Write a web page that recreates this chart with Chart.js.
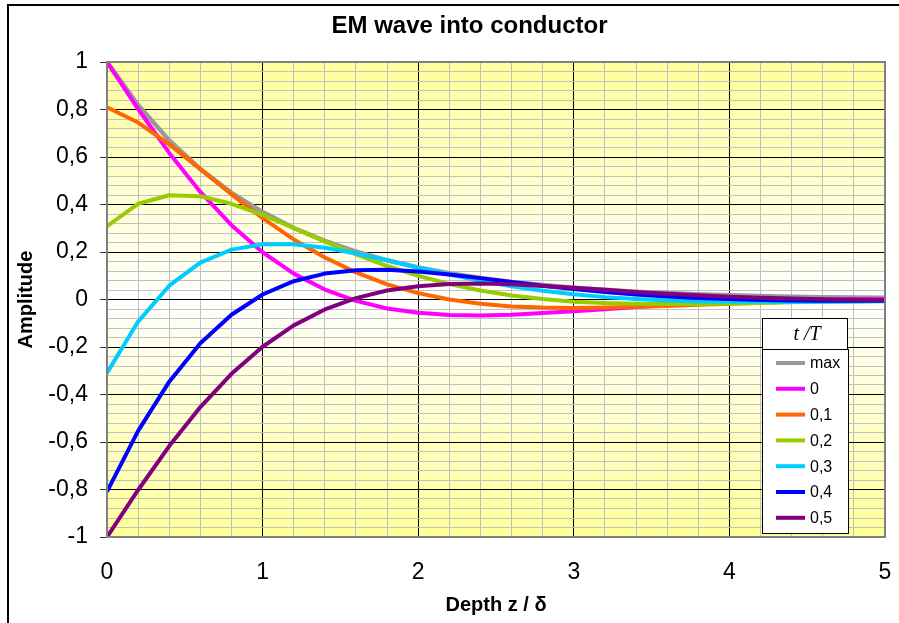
<!DOCTYPE html>
<html lang="en">
<head>
<meta charset="UTF-8">
<title>EM wave into conductor</title>
<script src="https://cdn.jsdelivr.net/npm/chart.js"></script>
<style>
  html, body { margin: 0; padding: 0; background: #fff; }
  canvas { display: block; }
</style>
</head>
<body>
<canvas id="waveChart" width="899" height="623"></canvas>
<script>
// depth z / delta
const depth = [0, 0.2, 0.4, 0.6, 0.8, 1.0, 1.2, 1.4, 1.6, 1.8, 2.0, 2.2, 2.4, 2.6, 2.8, 3.0, 3.2, 3.4, 3.6, 3.8, 4.0, 4.2, 4.4, 4.6, 4.8, 5.0];

// amplitude curves, one per t/T
const ampMax = [1, 0.819, 0.670, 0.549, 0.449, 0.368, 0.301, 0.247, 0.202, 0.165, 0.135, 0.111, 0.091, 0.074, 0.061, 0.050, 0.041, 0.033, 0.027, 0.022, 0.018, 0.015, 0.012, 0.010, 0.008, 0.007];
const amp00 = [1, 0.802, 0.617, 0.453, 0.313, 0.199, 0.109, 0.042, -0.006, -0.038, -0.056, -0.065, -0.067, -0.064, -0.057, -0.049, -0.041, -0.032, -0.024, -0.018, -0.012, -0.007, -0.004, -0.001, 0.001, 0.002];
const amp01 = [0.809, 0.745, 0.653, 0.549, 0.443, 0.343, 0.253, 0.177, 0.114, 0.064, 0.027, 0.000, -0.018, -0.029, -0.034, -0.036, -0.034, -0.031, -0.027, -0.022, -0.018, -0.014, -0.010, -0.007, -0.004, -0.002];
const amp02 = [0.309, 0.403, 0.439, 0.435, 0.403, 0.356, 0.301, 0.244, 0.190, 0.141, 0.100, 0.065, 0.038, 0.017, 0.002, -0.009, -0.015, -0.018, -0.019, -0.019, -0.017, -0.015, -0.012, -0.010, -0.008, -0.006];
const amp03 = [-0.309, -0.093, 0.058, 0.155, 0.210, 0.233, 0.233, 0.218, 0.194, 0.165, 0.134, 0.105, 0.079, 0.056, 0.037, 0.022, 0.010, 0.002, -0.004, -0.008, -0.009, -0.010, -0.010, -0.009, -0.008, -0.007];
const amp04 = [-0.809, -0.553, -0.346, -0.184, -0.064, 0.021, 0.077, 0.109, 0.123, 0.125, 0.118, 0.105, 0.090, 0.074, 0.058, 0.044, 0.032, 0.021, 0.013, 0.006, 0.002, -0.002, -0.004, -0.005, -0.005, -0.005];
const amp05 = [-1, -0.802, -0.617, -0.453, -0.313, -0.199, -0.109, -0.042, 0.006, 0.038, 0.056, 0.065, 0.067, 0.064, 0.057, 0.049, 0.041, 0.032, 0.024, 0.018, 0.012, 0.007, 0.004, 0.001, -0.001, -0.002];

const seriesNames = ['max', '0', '0,1', '0,2', '0,3', '0,4', '0,5'];
const seriesData = [ampMax, amp00, amp01, amp02, amp03, amp04, amp05];
const seriesColors = ['#999999', '#FF00FF', '#FF6600', '#99CC00', '#00CCFF', '#0000FF', '#800080'];

// tick labels
const xTickLabels = ['0', '1', '2', '3', '4', '5'];
const yTickLabels = ['-1', '-0,8', '-0,6', '-0,4', '-0,2', '0', '0,2', '0,4', '0,6', '0,8', '1'];

Chart.defaults.font.family = '"Liberation Sans", Arial, sans-serif';
Chart.defaults.color = '#000';

function isMajorX(v) { return Math.abs(v - Math.round(v)) < 1e-6; }
function isMajorY(v) { return Math.abs(v * 5 - Math.round(v * 5)) < 1e-6; }

// background, frame, title and legend box
const decorPlugin = {
    id: 'decor',
    beforeDraw(chart) {
        const { ctx, chartArea: a } = chart;
        ctx.save();
        const g = ctx.createLinearGradient(0, a.top, 0, a.bottom);
        g.addColorStop(0, '#FFFF99');
        g.addColorStop(0.5, '#FFFFFF');
        g.addColorStop(1, '#FFFF99');
        ctx.fillStyle = g;
        ctx.fillRect(a.left, a.top, a.right - a.left, a.bottom - a.top);

        // outer chart frame (only left and top show in the window)
        ctx.strokeStyle = '#000';
        ctx.lineWidth = 2;
        ctx.beginPath();
        ctx.moveTo(899, 5);
        ctx.lineTo(8, 5);
        ctx.lineTo(8, 623);
        ctx.stroke();

        ctx.font = 'bold 24px "Liberation Sans", Arial, sans-serif';
        ctx.fillStyle = '#000';
        ctx.textAlign = 'center';
        ctx.textBaseline = 'alphabetic';
        ctx.fillText('EM wave into conductor', 469.5, 33);
        ctx.restore();
    },
    afterDraw(chart) {
        const { ctx, chartArea: a } = chart;
        ctx.save();
        ctx.strokeStyle = '#808080';
        ctx.lineWidth = 2;
        ctx.strokeRect(a.left, a.top, a.right - a.left, a.bottom - a.top);

        // legend
        ctx.lineWidth = 1;
        ctx.strokeStyle = '#000';
        ctx.fillStyle = '#fff';
        ctx.fillRect(762.5, 318.5, 85, 31);
        ctx.strokeRect(762.5, 318.5, 85, 31);
        ctx.fillStyle = '#000';
        ctx.font = 'italic 20px "Liberation Serif", "Times New Roman", serif';
        ctx.textAlign = 'center';
        ctx.textBaseline = 'middle';
        ctx.fillText('t /T', 807, 335);

        ctx.fillStyle = '#fff';
        ctx.fillRect(762.5, 349.5, 86, 184);
        ctx.strokeRect(762.5, 349.5, 86, 184);
        ctx.font = '16px "Liberation Sans", Arial, sans-serif';
        ctx.textAlign = 'left';
        seriesNames.forEach((name, i) => {
            const y = 363 + i * 25.8;
            ctx.strokeStyle = seriesColors[i];
            ctx.lineWidth = 4;
            ctx.beginPath();
            ctx.moveTo(776, y);
            ctx.lineTo(805, y);
            ctx.stroke();
            ctx.fillStyle = '#000';
            ctx.fillText(name, 810, y + 1);
        });
        ctx.restore();
    }
};

const datasets = seriesData.map((values, i) => ({
    label: seriesNames[i],
    data: depth.map((z, k) => ({ x: z, y: values[k] })),
    borderColor: seriesColors[i],
    borderWidth: i === 0 ? 4.5 : 4,
    borderJoinStyle: 'round',
    pointRadius: 0,
    fill: false,
    tension: 0,
    order: seriesData.length - i
}));

new Chart(document.getElementById('waveChart'), {
    type: 'line',
    data: { datasets },
    plugins: [decorPlugin],
    options: {
        responsive: false,
        animation: false,
        events: [],
        layout: { padding: { top: 62, left: 8, right: 14, bottom: 0 } },
        plugins: {
            legend: { display: false },
            title: { display: false },
            tooltip: { enabled: false }
        },
        scales: {
            x: {
                type: 'linear',
                min: 0,
                max: 5,
                afterFit(scale) { scale.height = 86; },
                border: { display: false },
                grid: {
                    drawTicks: true,
                    tickLength: 20,
                    tickColor: 'rgba(0,0,0,0)',
                    color: c => (c.tick && isMajorX(c.tick.value)) ? '#000' : '#C0C0C0',
                    lineWidth: 1
                },
                ticks: {
                    stepSize: 0.2,
                    autoSkip: false,
                    maxRotation: 0,
                    padding: 2,
                    font: { size: 23 },
                    callback: v => isMajorX(v) ? xTickLabels[Math.round(v)] : ''
                },
                title: {
                    display: true,
                    text: 'Depth z / δ',
                    font: { size: 20, weight: 'bold' },
                    padding: { top: 0, bottom: 6 }
                }
            },
            y: {
                min: -1,
                max: 1,
                afterFit(scale) { scale.width = 99; },
                border: { display: false },
                grid: {
                    color: c => (c.tick && isMajorY(c.tick.value)) ? '#000' : '#C0C0C0',
                    tickColor: c => (c.tick && isMajorY(c.tick.value)) ? '#333' : 'rgba(0,0,0,0)',
                    tickLength: 7,
                    lineWidth: 1
                },
                ticks: {
                    stepSize: 0.04,
                    autoSkip: false,
                    padding: 12,
                    font: { size: 23 },
                    callback: v => isMajorY(v) ? yTickLabels[Math.round((v + 1) * 5)] : ''
                },
                title: {
                    display: true,
                    text: 'Amplitude',
                    font: { size: 20, weight: 'bold' },
                    padding: { top: 6, bottom: 0 }
                }
            }
        }
    }
});
</script>
</body>
</html>
